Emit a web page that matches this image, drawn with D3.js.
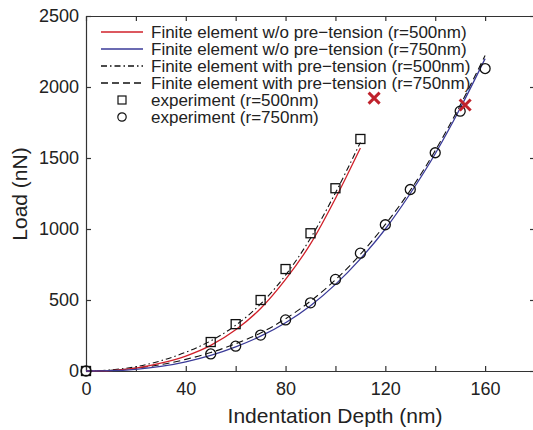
<!doctype html>
<html>
  <head>
    <meta charset="utf-8">
    <title>Load vs indentation depth</title>
    <script src="https://cdn.jsdelivr.net/npm/d3@7"></script>
    <style>
      body { margin: 0; background: #fff; }
      text { font-family: "Liberation Sans", Arial, sans-serif; fill: #222; }
    </style>
  </head>
  <body>
    <script>
      // simulation curves (depth nm -> load nN)
      const depth500 = [0, 10, 20, 30, 40, 50, 60, 70, 80, 90, 100, 110];
      const femNoPre500 = [0, 3, 20, 55, 105, 180, 290, 440, 645, 895, 1215, 1570];
      const femPre500 = [0, 8, 30, 72, 132, 212, 322, 472, 675, 935, 1255, 1610];

      const depth750 = [0, 10, 20, 30, 40, 50, 60, 70, 80, 90, 100, 110, 120, 130, 140, 150, 160];
      const femNoPre750 = [0, 2, 12, 32, 65, 110, 170, 245, 340, 460, 610, 790, 1000, 1250, 1530, 1850, 2200];
      const femPre750 = [0, 5, 20, 45, 82, 130, 192, 268, 368, 492, 642, 822, 1032, 1272, 1552, 1872, 2222];

      // experiments
      const expDepth500 = [0, 50, 60, 70, 80, 90, 100, 110];
      const expLoad500 = [0, 204, 330, 500, 718, 970, 1287, 1634];
      const expDepth750 = [0, 50, 60, 70, 80, 90, 100, 110, 120, 130, 140, 150, 160];
      const expLoad750 = [0, 120, 175, 253, 360, 480, 645, 830, 1030, 1278, 1537, 1830, 2130];

      // red crosses
      const crossDepth = [115.5, 152];
      const crossLoad = [1922, 1873];

      const xTicks = [0, 20, 40, 60, 80, 100, 120, 140, 160, 180];
      const xTickLabels = [0, 40, 80, 120, 160];
      const yTicks = [0, 500, 1000, 1500, 2000, 2500];

      const legendLabels = [
        'Finite element w/o pre\u2212tension (r=500nm)',
        'Finite element w/o pre\u2212tension (r=750nm)',
        'Finite element with pre\u2212tension (r=500nm)',
        'Finite element with pre\u2212tension (r=750nm)',
        'experiment (r=500nm)',
        'experiment (r=750nm)'
      ];

      const width = 533, height = 430;
      const mLeft = 86, mRight = 535, mTop = 16, mBottom = 371;
      const red = '#d0202a', blue = '#3a3a98', crossColor = '#c0222c', axisColor = '#333';

      const svg = d3.select('body').append('svg')
          .attr('width', width)
          .attr('height', height);

      const x = d3.scaleLinear().domain([0, 180]).range([mLeft, mRight]);
      const y = d3.scaleLinear().domain([0, 2500]).range([mBottom, mTop]);

      // axes box with inward ticks
      const gAxes = svg.append('g');
      gAxes.append('g')
          .attr('transform', `translate(0,${mBottom})`)
          .call(d3.axisBottom(x).tickValues(xTicks).tickSizeInner(-5).tickSizeOuter(0)
            .tickFormat(d => xTickLabels.includes(d) ? d : ''))
          .call(g => g.selectAll('text').attr('dy', '1.0em').attr('y', 6));
      gAxes.append('g')
          .attr('transform', `translate(0,${mTop})`)
          .call(d3.axisTop(x).tickValues(xTicks).tickSizeInner(-5).tickSizeOuter(0).tickFormat(''));
      gAxes.append('g')
          .attr('transform', `translate(${mLeft},0)`)
          .call(d3.axisLeft(y).tickValues(yTicks).tickSizeInner(-5).tickSizeOuter(0).tickFormat(d3.format('d')))
          .call(g => g.selectAll('text').attr('x', -7));
      gAxes.append('g')
          .attr('transform', `translate(${mRight},0)`)
          .call(d3.axisRight(y).tickValues(yTicks).tickSizeInner(-5).tickSizeOuter(0).tickFormat(''));
      gAxes.selectAll('.domain, .tick line').attr('stroke', axisColor).attr('stroke-width', 1.2);
      gAxes.selectAll('.tick text')
          .style('font-size', '18px')
          .style('font-family', '"Liberation Sans", Arial, sans-serif')
          .attr('fill', '#222');

      // axis titles
      svg.append('text')
          .attr('x', 335).attr('y', 423)
          .attr('text-anchor', 'middle')
          .style('font-size', '21px')
          .text('Indentation Depth (nm)');
      svg.append('text')
          .attr('transform', 'translate(27,194) rotate(-90)')
          .attr('text-anchor', 'middle')
          .style('font-size', '21px')
          .text('Load (nN)');

      const line = d3.line().x(d => x(d[0])).y(d => y(d[1])).curve(d3.curveMonotoneX);

      const curves = [
        { xs: depth500, ys: femPre500, color: '#111', dash: '6,3,1.5,3', w: 1.1 },
        { xs: depth750, ys: femPre750, color: '#111', dash: '7,4', w: 1.1 },
        { xs: depth500, ys: femNoPre500, color: red, dash: null, w: 1.3 },
        { xs: depth750, ys: femNoPre750, color: blue, dash: null, w: 1.3 }
      ];

      svg.append('g')
        .selectAll('path')
        .data(curves)
        .enter().append('path')
          .attr('d', c => line(c.xs.map((v, i) => [v, c.ys[i]])))
          .attr('fill', 'none')
          .attr('stroke', c => c.color)
          .attr('stroke-width', c => c.w)
          .attr('stroke-dasharray', c => c.dash);

      // experiment markers
      svg.append('g')
        .selectAll('rect')
        .data(expDepth500.map((v, i) => [v, expLoad500[i]]))
        .enter().append('rect')
          .attr('x', d => x(d[0]) - 4.5)
          .attr('y', d => y(d[1]) - 4.5)
          .attr('width', 9).attr('height', 9)
          .attr('fill', 'none').attr('stroke', '#111').attr('stroke-width', 1.3);

      svg.append('g')
        .selectAll('circle')
        .data(expDepth750.map((v, i) => [v, expLoad750[i]]))
        .enter().append('circle')
          .attr('cx', d => x(d[0]))
          .attr('cy', d => y(d[1]))
          .attr('r', 5)
          .attr('fill', 'none').attr('stroke', '#111').attr('stroke-width', 1.3);

      // crosses
      svg.append('g')
        .selectAll('path')
        .data(crossDepth.map((v, i) => [v, crossLoad[i]]))
        .enter().append('path')
          .attr('d', d => {
            const cx = x(d[0]), cy = y(d[1]), s = 5.5;
            return `M${cx - s},${cy - s}L${cx + s},${cy + s}M${cx - s},${cy + s}L${cx + s},${cy - s}`;
          })
          .attr('stroke', crossColor)
          .attr('stroke-width', 3);

      // legend
      const legend = svg.append('g');
      const rowY = i => 32 + i * 17;
      legendLabels.forEach((label, i) => {
        const g = legend.append('g').attr('transform', `translate(0,${rowY(i)})`);
        if (i < 4) {
          const c = curves[[2, 3, 0, 1][i]];
          g.append('line')
              .attr('x1', 101).attr('x2', 143).attr('y1', 0).attr('y2', 0)
              .attr('stroke', c.color)
              .attr('stroke-width', 1.3)
              .attr('stroke-dasharray', c.dash);
        } else if (i === 4) {
          g.append('rect').attr('x', 118).attr('y', -4).attr('width', 8).attr('height', 8)
              .attr('fill', 'none').attr('stroke', '#111').attr('stroke-width', 1.2);
        } else {
          g.append('circle').attr('cx', 122).attr('cy', 0).attr('r', 4.2)
              .attr('fill', 'none').attr('stroke', '#111').attr('stroke-width', 1.2);
        }
        g.append('text')
            .attr('x', 151).attr('y', 0).attr('dy', '0.35em')
            .style('font-size', '17px')
            .text(label);
      });
    </script>
  </body>
</html>
